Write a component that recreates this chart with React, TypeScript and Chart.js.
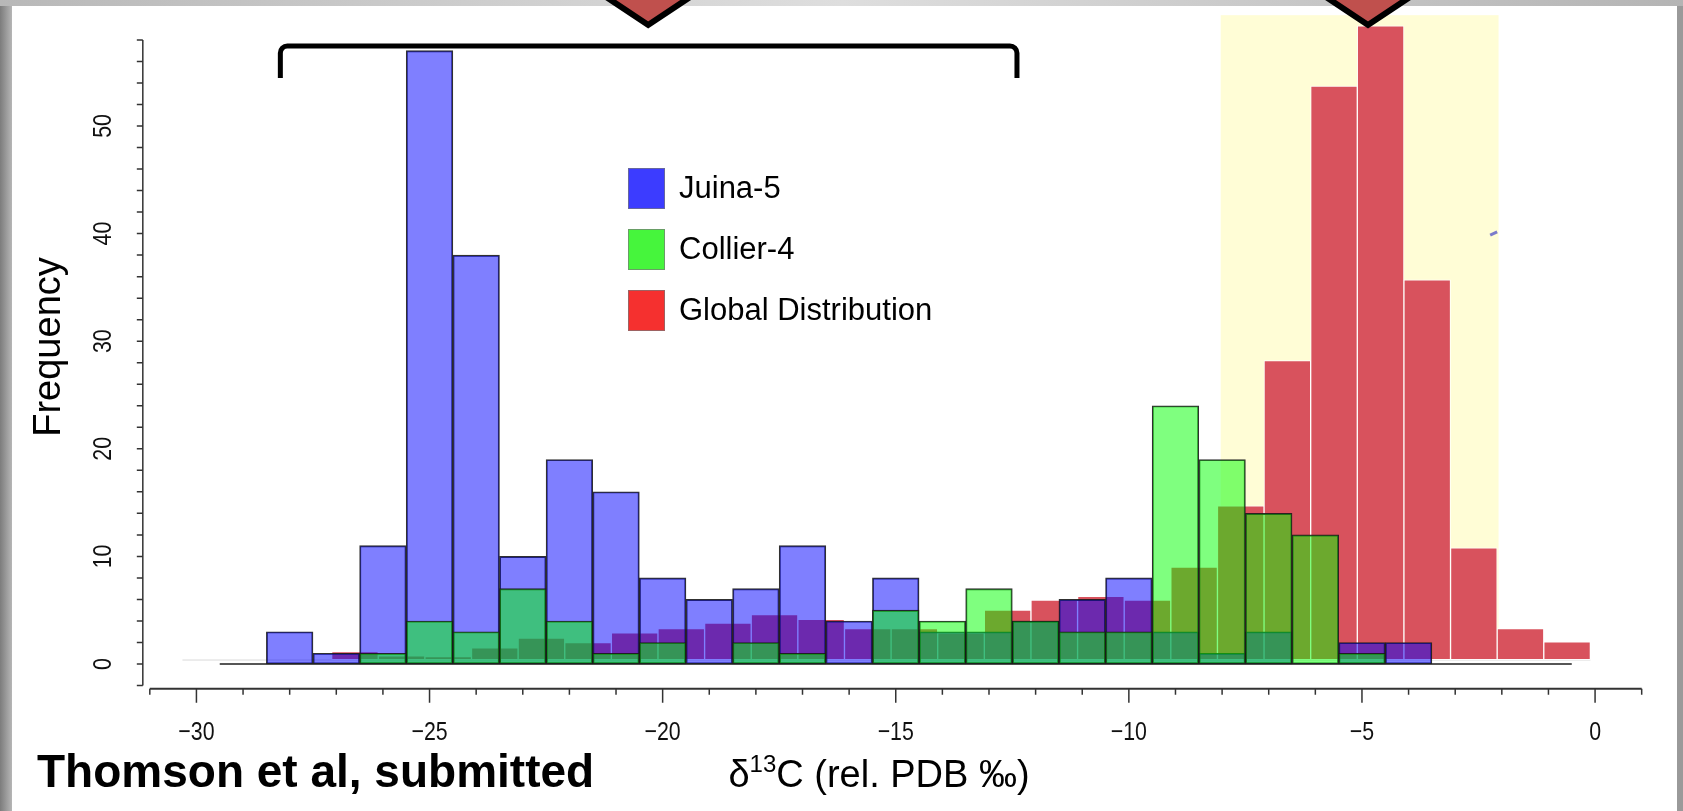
import React, { useEffect, useRef } from 'react';
import { Chart, registerables } from 'chart.js';

Chart.register(...registerables);

// ---------------- data ----------------
const BIN_CENTERS = [-29, -28, -27, -26, -25, -24, -23, -22, -21, -20, -19, -18, -17, -16, -15, -14, -13, -12, -11, -10, -9, -8, -7, -6, -5, -4, -3, -2, -1];
const JUINA_5 = [0, 3, 1, 11, 57, 38, 10, 19, 16, 8, 6, 7, 11, 4, 8, 3, 3, 4, 6, 8, 3, 1, 3, 0, 2, 2, 0, 0, 0];
const COLLIER_4 = [0, 0, 0, 1, 4, 3, 7, 4, 1, 2, 0, 2, 1, 0, 5, 4, 7, 4, 3, 3, 24, 19, 14, 12, 1, 0, 0, 0, 0];

const GLOBAL_CENTERS = [-26.6, -25.6, -24.6, -23.6, -22.6, -21.6, -20.6, -19.6, -18.6, -17.6, -16.6, -15.6, -14.6, -13.6, -12.6, -11.6, -10.6, -9.6, -8.6, -7.6, -6.6, -5.6, -4.6, -3.6, -2.6, -1.6, -0.6];
const GLOBAL_DIST = [1.15, 0.75, 0.7, 1.5, 2.4, 2.0, 2.9, 3.3, 3.8, 4.6, 4.15, 3.3, 3.3, 2.9, 5.0, 5.95, 6.3, 5.95, 9.0, 14.7, 28.2, 53.7, 59.3, 35.7, 10.8, 3.3, 2.05];
const GLOBAL_BASE = 0.4;

const SERIES_LABELS = ['Juina-5', 'Collier-4', 'Global Distribution'];
const X_TICK_LABELS = [-30, -25, -20, -15, -10, -5, 0];
const Y_TICK_LABELS = [0, 10, 20, 30, 40, 50];
const X_AXIS_RANGE = [-31, 1];
const Y_AXIS_RANGE = [-2, 58];
const HIGHLIGHT_RANGE = [-8.03, -2.07];
const HIGHLIGHT_TOP = 60.3;
const BRACKET_RANGE = [-28.2, -12.4];
const ARROW_POSITIONS = [-20.31, -4.87];
const X_TITLE_PARTS = ['δ', '13', 'C (rel. PDB ‰)'];
const Y_TITLE = 'Frequency';
const CREDIT = 'Thomson et al, submitted';

// ---------------- styles ----------------
const W = 1683;
const H = 811;
const FONT = "'Liberation Sans', Arial, Helvetica, sans-serif";
const LEGEND_COLORS = ['#3c3cff', '#46f53c', '#f5302f'];
const TICK_CONDENSE = 0.82;

const decorPlugin = {
  id: 'decor',
  beforeDraw(chart: any) {
    const ctx = chart.ctx as CanvasRenderingContext2D;
    ctx.save();
    const g = ctx.createLinearGradient(0, 0, W, 0);
    g.addColorStop(0, '#b8b8b8');
    g.addColorStop(0.5, '#dedede');
    g.addColorStop(1, '#b4b4b4');
    ctx.fillStyle = g;
    ctx.fillRect(0, 0, W, H);
    const gl = ctx.createLinearGradient(0, 0, 12, 0);
    gl.addColorStop(0, '#7c7c7c');
    gl.addColorStop(1, '#b6b6b6');
    ctx.fillStyle = gl;
    ctx.fillRect(0, 6, 12, H);
    ctx.fillStyle = '#9a9a9a';
    ctx.fillRect(1677, 6, 6, H);
    ctx.fillStyle = '#ffffff';
    ctx.fillRect(12, 6, 1665, H);
    ctx.restore();
  },
  beforeDatasetsDraw(chart: any) {
    const ctx = chart.ctx as CanvasRenderingContext2D;
    const x = chart.scales.x;
    const y = chart.scales.y;
    ctx.save();
    const x0 = x.getPixelForValue(HIGHLIGHT_RANGE[0]);
    const x1 = x.getPixelForValue(HIGHLIGHT_RANGE[1]);
    const y0 = y.getPixelForValue(HIGHLIGHT_TOP);
    const y1 = y.getPixelForValue(GLOBAL_BASE);
    ctx.fillStyle = '#fffdd6';
    ctx.fillRect(x0, y0, x1 - x0, y1 - y0);
    ctx.strokeStyle = '#dadada';
    ctx.lineWidth = 1;
    ctx.beginPath();
    ctx.moveTo(x.getPixelForValue(-30.3), y.getPixelForValue(GLOBAL_BASE - 0.03));
    ctx.lineTo(x.getPixelForValue(-0.1), y.getPixelForValue(GLOBAL_BASE - 0.03));
    ctx.stroke();
    ctx.restore();
  },
  afterDatasetsDraw(chart: any) {
    const ctx = chart.ctx as CanvasRenderingContext2D;
    const x = chart.scales.x;
    const y = chart.scales.y;
    ctx.save();

    // histogram baseline (zero-height bins)
    const binStart = BIN_CENTERS[0] - 0.5;
    const binEnd = BIN_CENTERS[BIN_CENTERS.length - 1] + 0.5;
    ctx.strokeStyle = '#1e1e1e';
    ctx.lineWidth = 1.5;
    ctx.beginPath();
    ctx.moveTo(x.getPixelForValue(binStart), y.getPixelForValue(0));
    ctx.lineTo(x.getPixelForValue(binEnd), y.getPixelForValue(0));
    ctx.stroke();

    // stray blue mark
    ctx.strokeStyle = 'rgba(90,90,200,0.8)';
    ctx.lineWidth = 3;
    ctx.beginPath();
    ctx.moveTo(x.getPixelForValue(-2.25), y.getPixelForValue(39.85));
    ctx.lineTo(x.getPixelForValue(-2.1), y.getPixelForValue(40.15));
    ctx.stroke();

    // y axis
    const yAxisX = x.getPixelForValue(-31.15);
    ctx.strokeStyle = '#333';
    ctx.lineWidth = 1.5;
    ctx.beginPath();
    ctx.moveTo(yAxisX, y.getPixelForValue(Y_AXIS_RANGE[0]));
    ctx.lineTo(yAxisX, y.getPixelForValue(Y_AXIS_RANGE[1]));
    for (let v = Y_AXIS_RANGE[0]; v <= Y_AXIS_RANGE[1]; v += 2) {
      const py = y.getPixelForValue(v);
      ctx.moveTo(yAxisX - 6, py);
      ctx.lineTo(yAxisX, py);
    }
    ctx.stroke();
    ctx.fillStyle = '#111';
    ctx.font = `26px ${FONT}`;
    ctx.textAlign = 'center';
    ctx.textBaseline = 'alphabetic';
    for (const v of Y_TICK_LABELS) {
      ctx.save();
      ctx.translate(111, y.getPixelForValue(v));
      ctx.rotate(-Math.PI / 2);
      ctx.scale(TICK_CONDENSE, 1);
      ctx.fillText(String(v), 0, 0);
      ctx.restore();
    }

    // x axis
    const xAxisY = y.getPixelForValue(-2.3);
    ctx.strokeStyle = '#333';
    ctx.lineWidth = 2;
    ctx.beginPath();
    ctx.moveTo(x.getPixelForValue(X_AXIS_RANGE[0]), xAxisY);
    ctx.lineTo(x.getPixelForValue(X_AXIS_RANGE[1]), xAxisY);
    ctx.stroke();
    ctx.lineWidth = 1.5;
    ctx.beginPath();
    for (let v = X_AXIS_RANGE[0]; v <= X_AXIS_RANGE[1]; v += 1) {
      const px = x.getPixelForValue(v);
      const len = v % 5 === 0 ? 14 : 6;
      ctx.moveTo(px, xAxisY);
      ctx.lineTo(px, xAxisY + len);
    }
    ctx.stroke();
    ctx.fillStyle = '#111';
    for (const v of X_TICK_LABELS) {
      const s = v < 0 ? '\u2212' + String(-v) : String(v);
      ctx.save();
      ctx.translate(x.getPixelForValue(v), 740);
      ctx.scale(TICK_CONDENSE, 1);
      ctx.fillText(s, 0, 0);
      ctx.restore();
    }

    // axis titles
    ctx.fillStyle = '#000';
    ctx.font = `38px ${FONT}`;
    const wA = ctx.measureText(X_TITLE_PARTS[0]).width;
    const wC = ctx.measureText(X_TITLE_PARTS[2]).width;
    ctx.font = `24px ${FONT}`;
    const wB = ctx.measureText(X_TITLE_PARTS[1]).width;
    let tx = 879 - (wA + wB + wC) / 2;
    ctx.textAlign = 'left';
    ctx.font = `38px ${FONT}`;
    ctx.fillText(X_TITLE_PARTS[0], tx, 787);
    tx += wA;
    ctx.font = `24px ${FONT}`;
    ctx.fillText(X_TITLE_PARTS[1], tx, 772);
    tx += wB;
    ctx.font = `38px ${FONT}`;
    ctx.fillText(X_TITLE_PARTS[2], tx, 787);

    ctx.save();
    ctx.translate(60, 347);
    ctx.rotate(-Math.PI / 2);
    ctx.textAlign = 'center';
    ctx.font = `38px ${FONT}`;
    ctx.fillText(Y_TITLE, 0, 0);
    ctx.restore();

    // legend
    const rows = [188.5, 249.5, 310.5];
    chart.data.datasets.forEach((ds: any, i: number) => {
      const cy = rows[i];
      ctx.fillStyle = LEGEND_COLORS[i];
      ctx.fillRect(628, cy - 20.5, 37, 41);
      ctx.strokeStyle = 'rgba(120,120,120,0.7)';
      ctx.lineWidth = 1;
      ctx.strokeRect(628.5, cy - 20, 36, 40);
      ctx.fillStyle = '#000';
      ctx.font = `31px ${FONT}`;
      ctx.textAlign = 'left';
      ctx.textBaseline = 'middle';
      ctx.fillText(ds.label, 679, cy + 1);
    });
    ctx.textBaseline = 'alphabetic';

    // bracket
    const bl = x.getPixelForValue(BRACKET_RANGE[0]);
    const br = x.getPixelForValue(BRACKET_RANGE[1]);
    ctx.strokeStyle = '#000';
    ctx.lineWidth = 5;
    ctx.lineJoin = 'round';
    ctx.beginPath();
    ctx.moveTo(bl, 78);
    ctx.arcTo(bl, 46, bl + 10, 46, 7);
    ctx.lineTo(br - 10, 46);
    ctx.arcTo(br, 46, br, 78, 7);
    ctx.lineTo(br, 78);
    ctx.stroke();

    // arrows
    ctx.lineJoin = 'miter';
    ctx.lineWidth = 6;
    for (const v of ARROW_POSITIONS) {
      const ax = x.getPixelForValue(v);
      const tipY = 25;
      const topY = -40;
      const hw = 1.5 * (tipY - topY);
      ctx.beginPath();
      ctx.moveTo(ax - hw, topY);
      ctx.lineTo(ax, tipY);
      ctx.lineTo(ax + hw, topY);
      ctx.closePath();
      ctx.fillStyle = '#c0504d';
      ctx.fill();
      ctx.strokeStyle = '#000';
      ctx.stroke();
    }

    // credit
    ctx.fillStyle = '#000';
    ctx.font = `bold 46px ${FONT}`;
    ctx.textAlign = 'left';
    ctx.fillText(CREDIT, 37, 787);

    ctx.restore();
  },
};

export default function App() {
  const ref = useRef<HTMLCanvasElement | null>(null);

  useEffect(() => {
    const canvas = ref.current;
    if (!canvas) return;
    const rBar = {
      borderSkipped: false,
      grouped: false,
      barPercentage: 1,
      categoryPercentage: 1,
    };
    const chart = new Chart(canvas, {
      type: 'bar',
      data: {
        datasets: [
          {
            label: SERIES_LABELS[0],
            data: BIN_CENTERS.map((c, i) => ({ x: c, y: JUINA_5[i] })),
            backgroundColor: 'rgba(0,0,255,0.5)',
            borderColor: 'rgba(25,25,25,0.9)',
            borderWidth: 1.2,
            order: 1,
            xAxisID: 'x',
            yAxisID: 'y',
            ...rBar,
          },
          {
            label: SERIES_LABELS[1],
            data: BIN_CENTERS.map((c, i) => ({ x: c, y: COLLIER_4[i] })),
            backgroundColor: 'rgba(0,255,0,0.5)',
            borderColor: 'rgba(25,25,25,0.9)',
            borderWidth: 1.2,
            order: 0,
            xAxisID: 'x',
            yAxisID: 'y',
            ...rBar,
          },
          {
            label: SERIES_LABELS[2],
            data: GLOBAL_CENTERS.map((c, i) => ({ x: c, y: GLOBAL_DIST[i] })),
            backgroundColor: '#d8525d',
            borderColor: 'rgba(255,255,255,0.9)',
            borderWidth: 1,
            base: GLOBAL_BASE,
            order: 2,
            xAxisID: 'x2',
            yAxisID: 'y',
            ...rBar,
          },
        ] as any,
      },
      options: {
        responsive: false,
        animation: false,
        events: [],
        devicePixelRatio: 1,
        layout: { padding: { left: 126.5, right: 18, top: 7.64, bottom: 120.1 } },
        scales: {
          x: { type: 'linear', min: -31.5, max: 1.5, offset: false, display: false, ticks: { stepSize: 5 } },
          x2: { type: 'linear', min: -31.5, max: 1.5, offset: false, display: false, ticks: { stepSize: 5 } },
          y: { type: 'linear', min: -2.5, max: 61, display: false },
        },
        plugins: {
          legend: { display: false },
          tooltip: { enabled: false },
        },
      } as any,
      plugins: [decorPlugin],
    });
    return () => chart.destroy();
  }, []);

  return (
    <div style={{ position: 'fixed', left: 0, top: 0, width: W, height: H, overflow: 'hidden' }}>
      <canvas ref={ref} width={W} height={H} style={{ display: 'block', width: W, height: H }} />
    </div>
  );
}
